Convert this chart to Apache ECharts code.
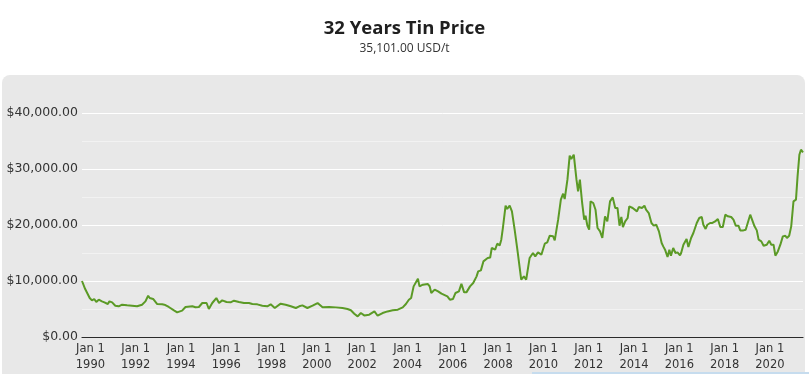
<!DOCTYPE html>
<html>
<head>
<meta charset="utf-8">
<script src="https://cdn.jsdelivr.net/npm/echarts@6/dist/echarts.min.js"></script>
<style>
html,body{margin:0;padding:0;background:#fff;}
#c{width:809px;height:374px;}
</style>
</head>
<body>
<div id="c"></div>
<script>
// decimal year of each reading
const dates = [
1989.63,1989.77,1989.85,1989.97,1990.07,1990.17,1990.26,1990.37,1990.51,1990.62,1990.70,1990.77,1990.84,1990.96,
1991.10,1991.25,1991.40,1991.62,1991.84,1992.06,1992.28,1992.43,1992.55,1992.62,1992.77,1992.95,
1993.17,1993.31,1993.46,1993.69,1993.83,1994.05,1994.20,1994.50,1994.64,1994.79,1994.94,
1995.13,1995.23,1995.38,1995.56,1995.68,1995.82,1996.01,1996.19,1996.34,1996.56,1996.78,
1997.00,1997.15,1997.37,1997.59,1997.81,1997.96,1998.14,1998.40,1998.62,1998.85,
1999.07,1999.22,1999.36,1999.58,1999.81,2000.03,2000.25,2000.54,2000.84,
2001.13,2001.35,2001.50,2001.65,2001.80,2001.94,2002.09,2002.31,2002.54,2002.68,2002.90,
2003.12,2003.35,2003.57,2003.79,2003.93,2004.06,2004.16,2004.27,2004.35,2004.46,2004.53,2004.68,2004.90,2004.98,
2005.05,2005.20,2005.35,2005.50,2005.57,2005.76,2005.87,2006.01,2006.12,2006.27,2006.38,2006.50,2006.60,2006.76,2006.90,
2007.05,2007.12,2007.24,2007.35,2007.54,2007.65,2007.72,2007.87,2007.96,2008.07,2008.14,2008.21,2008.33,2008.40,2008.51,2008.61,2008.73,2008.85,
2009.02,2009.14,2009.24,2009.39,2009.54,2009.64,2009.76,2009.91,2010.06,2010.17,2010.28,2010.43,2010.50,2010.65,2010.77,2010.87,2010.94,
2011.06,2011.16,2011.23,2011.34,2011.46,2011.53,2011.61,2011.71,2011.80,2011.86,2011.94,2012.02,2012.08,2012.20,2012.30,2012.39,2012.50,2012.60,2012.72,2012.82,2012.94,
2013.06,2013.17,2013.27,2013.36,2013.44,2013.51,2013.61,2013.72,2013.79,2013.94,2014.13,2014.21,2014.35,2014.46,2014.53,2014.65,2014.77,2014.87,2014.98,
2015.10,2015.22,2015.29,2015.37,2015.48,2015.56,2015.63,2015.73,2015.83,2015.92,2016.03,2016.08,2016.18,2016.32,2016.40,2016.52,2016.62,2016.77,2016.88,2016.99,
2017.06,2017.16,2017.24,2017.36,2017.46,2017.58,2017.70,2017.81,2017.92,2018.03,2018.14,2018.29,2018.39,2018.49,2018.61,2018.69,2018.83,2018.93,
2019.02,2019.13,2019.20,2019.32,2019.42,2019.50,2019.62,2019.72,2019.86,2019.97,2020.06,2020.16,2020.24,2020.35,2020.46,2020.57,2020.68,2020.75,2020.85,2020.94,
2021.04,2021.15,2021.22,2021.30,2021.37,2021.46
];
// tin price, USD per tonne
const prices = [
10000,8570,8300,6960,6540,6790,6250,6660,6360,6180,6400,5890,6360,6180,
5590,5480,5770,5650,5590,5480,5770,6360,7370,6960,6790,5890,
5830,5710,5360,4750,4390,4700,5360,5480,5300,5360,6070,
6070,5000,6070,6960,6070,6540,6250,6190,6480,6250,6070,
6070,5890,5830,5590,5480,5830,5180,5950,5770,5480,
5180,5480,5650,5180,5590,6070,5300,5350,5290,
5180,5000,4780,4160,3680,4280,3860,3980,4570,3800,4280,
4570,4780,4880,5290,5890,6660,6960,9040,9220,10410,9040,9340,9460,9040,
7860,8460,8160,7740,7550,7250,6660,6790,7860,8150,9520,7970,7970,9040,9640,
10830,11720,11900,13500,14100,14200,15890,15600,16660,16360,17380,19460,23450,22860,23450,22430,19160,15590,
10230,10830,10230,14100,15000,14400,15110,14700,16660,16900,18090,17980,17250,20950,24520,25590,24640,
28090,32380,31790,32550,28090,26000,28090,23930,20950,21660,19880,19160,24220,23930,22730,19460,18860,17680,21540,20640,24220,
24930,23040,23040,19880,21430,19640,20640,21250,23330,23040,22430,23210,23040,23450,22730,22140,20360,19880,20050,
18860,16790,16180,15590,14290,15590,14500,15890,15000,15110,14570,15000,16480,17500,16070,17680,18570,20360,21250,21430,
20050,19290,20050,20360,20360,20640,21070,19640,19640,21840,21550,21430,20950,19880,19880,19040,19040,19160,
20360,21840,21550,19760,19040,17380,17080,16300,16480,17200,16480,16480,14520,15290,16480,17970,18090,17680,18090,19760,
24220,24520,28680,32550,33450,32960
];
const tickYears = [1990,1992,1994,1996,1998,2000,2002,2004,2006,2008,2010,2012,2014,2016,2018,2020];
const titleText = '32 Years Tin Price';
const subtitleText = '35,101.00 USD/t';

const chart = echarts.init(document.getElementById('c'), null, {renderer:'canvas'});
const fontFam = '"DejaVu Sans", sans-serif';
chart.setOption({
  animation: false,
  backgroundColor: '#ffffff',
  title: {
    text: titleText,
    subtext: subtitleText,
    left: 'center',
    top: 14,
    itemGap: 5,
    textStyle: {fontFamily: '"Open Sans", sans-serif', fontSize: 18.5, fontWeight: 'bold', color: '#1f1f1f'},
    subtextStyle: {fontFamily: '"Open Sans", sans-serif', fontSize: 12, color: '#333'}
  },
  graphic: [
    {type:'rect', z:-10, silent:true, shape:{x:2, y:75, width:803, height:330, r:[8,8,0,0]}, style:{fill:'#e8e8e8'}},
    {type:'rect', z:-9, silent:true, shape:{x:532, y:372, width:277, height:2}, style:{fill:'#c6dcee'}}
  ],
  grid: {left: 82, right: 6, top: 113, bottom: 37, containLabel: false},
  xAxis: {
    type: 'value',
    min: dates[0],
    max: dates[dates.length-1],
    axisLine: {show: true, lineStyle: {color: '#2b2b2b', width: 1.2}},
    axisTick: {show: false},
    splitLine: {show: false},
    axisLabel: {
      customValues: tickYears,
      formatter: v => 'Jan 1\n' + Math.round(v),
      color: '#333', fontFamily: fontFam, fontSize: 11.5, lineHeight: 16, margin: 4
    }
  },
  yAxis: {
    type: 'value',
    min: 0, max: 40000, interval: 5000,
    axisLine: {show: false},
    axisTick: {show: false},
    splitLine: {show: true, lineStyle: {color: ['#ffffff', '#f2f2f2'], width: 1}},
    axisLabel: {
      formatter: v => (v % 10000 === 0) ? '$' + v.toLocaleString('en-US', {minimumFractionDigits:2, maximumFractionDigits:2}) : '',
      color: '#333', fontFamily: fontFam, fontSize: 12.5, margin: 4
    }
  },
  series: [{
    type: 'line',
    data: dates.map((d, i) => [d, prices[i]]),
    showSymbol: false,
    lineStyle: {color: '#5b9a26', width: 2},
    itemStyle: {color: '#5b9a26'},
    clip: false
  }]
});
</script>
</body>
</html>
